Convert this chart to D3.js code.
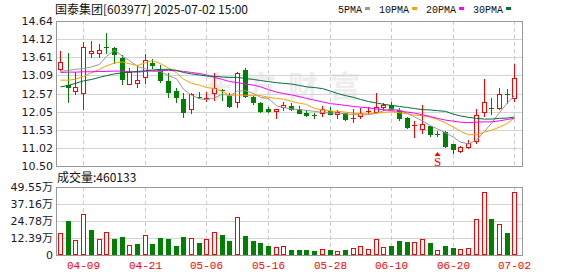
<!DOCTYPE html>
<html>
<head>
<meta charset="utf-8">
<script src="https://cdn.jsdelivr.net/npm/d3@7"></script>
<style>
body { margin: 0; background: #fff; }
svg { display: block; }
</style>
</head>
<body>
<script>
// trading days shown (60 sessions)
const dates = ["04-03","04-07","04-08","04-09","04-10","04-11","04-14","04-15","04-16","04-17",
  "04-18","04-21","04-22","04-23","04-24","04-25","04-28","04-29","04-30","05-06",
  "05-07","05-08","05-09","05-12","05-13","05-14","05-15","05-16","05-19","05-20",
  "05-21","05-22","05-23","05-26","05-27","05-28","05-29","05-30","06-03","06-04",
  "06-05","06-06","06-09","06-10","06-11","06-12","06-13","06-16","06-17","06-18",
  "06-19","06-20","06-23","06-24","06-25","06-26","06-27","06-30","07-01","07-02"];

const openP = [13.28,12.80,12.63,12.58,13.73,13.73,13.91,13.88,13.57,12.83,
  12.86,13.03,13.43,13.24,12.93,12.64,12.41,12.13,12.47,12.43,
  12.59,12.68,12.50,12.32,13.24,12.48,12.31,12.14,12.06,12.18,
  12.21,12.12,12.02,11.97,12.02,12.08,11.98,12.02,11.83,11.93,
  12.06,12.05,12.18,12.24,12.10,11.86,11.65,11.57,11.64,11.42,
  11.47,11.12,10.92,11.03,11.20,12.03,12.15,12.16,12.55,12.43];
const highP = [13.78,13.73,13.19,14.04,14.07,13.98,14.31,13.91,13.67,13.29,
  13.39,13.70,13.56,13.38,13.15,12.72,12.58,12.58,12.62,12.60,
  13.15,12.70,12.59,13.19,13.29,12.50,12.34,12.18,12.12,12.34,
  12.31,12.21,12.10,12.02,12.21,12.19,12.09,12.02,12.12,12.15,
  12.18,12.58,12.29,12.34,12.15,11.91,11.79,12.24,11.64,11.49,
  11.49,11.12,11.07,11.24,12.12,12.98,12.43,12.72,12.69,13.41];
const lowP = [13.24,12.34,12.56,12.12,13.62,13.60,13.73,13.43,12.83,12.83,
  12.76,12.86,13.29,12.91,12.48,12.34,11.91,12.02,12.43,12.36,
  12.38,12.38,12.18,12.19,12.48,12.27,12.05,12.04,11.86,12.10,
  12.10,12.00,11.93,11.88,11.93,11.99,11.87,11.81,11.77,11.86,
  11.99,12.05,12.10,12.12,11.81,11.58,11.34,11.43,11.36,11.36,
  11.03,10.88,10.90,11.01,11.17,11.93,11.98,12.12,12.31,12.36];
const closeP = [13.46,12.75,12.75,13.89,13.78,13.81,13.90,13.69,12.99,13.18,
  12.95,13.52,13.38,12.95,12.62,12.46,12.04,12.55,12.45,12.45,
  12.72,12.64,12.22,13.15,12.50,12.34,12.08,12.07,12.12,12.24,
  12.12,12.00,11.96,11.95,12.12,11.99,12.04,11.83,11.87,12.02,
  12.08,12.19,12.23,12.12,11.86,11.62,11.67,11.70,11.41,11.41,
  11.07,10.99,11.04,11.16,11.96,12.32,12.13,12.56,12.53,13.00];

const volume = [158000,247800,107000,296400,182000,116600,165000,116600,131200,70400,
  80200,143300,80200,123900,116600,68000,131200,121500,87400,116600,
  165000,145700,102000,274500,138500,102000,87400,68000,58300,63200,
  36400,36400,36400,29100,41300,36400,26700,36400,48600,65600,
  43700,114200,58300,68000,102000,94700,94700,114200,87400,34000,
  65600,51000,41300,48600,260000,456600,262300,223400,160300,460133];

const ma5 = [13.20,13.23,13.26,13.28,13.33,13.40,13.63,13.81,13.63,13.51,
  13.34,13.27,13.20,13.20,13.08,12.99,12.69,12.52,12.42,12.39,
  12.44,12.56,12.50,12.64,12.65,12.57,12.46,12.43,12.22,12.17,
  12.13,12.11,12.09,12.06,12.03,12.01,12.01,11.99,11.97,11.95,
  11.97,12.00,12.08,12.13,12.10,12.00,11.90,11.79,11.65,11.56,
  11.45,11.32,11.18,11.13,11.24,11.49,11.72,12.03,12.30,12.51];
const ma10 = [12.95,12.95,12.98,13.06,13.16,13.26,13.36,13.44,13.47,13.42,
  13.37,13.45,13.51,13.42,13.30,13.16,12.98,12.86,12.81,12.74,
  12.71,12.63,12.51,12.53,12.52,12.51,12.51,12.46,12.43,12.41,
  12.35,12.29,12.26,12.14,12.10,12.07,12.06,12.04,12.01,11.99,
  11.99,12.01,12.03,12.05,12.02,11.99,11.95,11.94,11.89,11.83,
  11.73,11.61,11.49,11.39,11.40,11.47,11.52,11.61,11.72,11.88];
const ma20 = [13.17,13.18,13.18,13.19,13.19,13.20,13.20,13.21,13.21,13.19,
  13.18,13.20,13.22,13.22,13.23,13.22,13.20,13.17,13.14,13.10,
  13.03,12.97,12.91,12.88,12.84,12.81,12.76,12.68,12.61,12.57,
  12.53,12.48,12.43,12.38,12.33,12.28,12.26,12.23,12.20,12.18,
  12.16,12.13,12.11,12.08,12.06,12.04,12.01,11.96,11.91,11.86,
  11.81,11.78,11.75,11.74,11.75,11.76,11.76,11.79,11.83,11.86];
const ma30 = [12.76,12.80,12.86,12.93,12.97,13.03,13.08,13.13,13.16,13.18,
  13.20,13.22,13.24,13.26,13.26,13.23,13.17,13.13,13.10,13.07,
  13.06,13.04,13.03,13.03,13.00,12.97,12.94,12.91,12.88,12.86,
  12.84,12.80,12.76,12.74,12.71,12.64,12.57,12.51,12.46,12.40,
  12.34,12.30,12.26,12.23,12.20,12.17,12.14,12.11,12.10,12.08,
  12.06,11.98,11.93,11.89,11.86,11.84,11.84,11.86,11.87,11.90];

const priceTicks = [14.64,14.12,13.61,13.09,12.57,12.05,11.53,11.02,10.50];
const volTicks = [0,123900,247800,371600,495500];
const volTickLabels = ["0","12.39万","24.78万","37.16万","49.55万"];
const dateTicks = ["04-09","04-21","05-06","05-16","05-28","06-10","06-20","07-02"];
const maNames = ["5PMA","10PMA","20PMA","30PMA"];
const signalDate = "06-18";

const RED = "#ff0000", GREEN = "#008000";
const maColors = ["#999999","#f5a300","#ff00ff","#006f35"];

const width = 578, height = 276;
const padL = 56, padR = 522, kTop = 21, kBottom = 166, vTop = 187, vBottom = 255;

const svg = d3.select("body").append("svg").attr("width", width).attr("height", height);

const x = d3.scaleBand().domain(d3.range(dates.length)).range([56.2, 518.2]);
const cx = (i) => Math.round(x(i) + x.bandwidth() / 2);
const y = d3.scaleLinear().domain([10.50, 14.64]).range([kBottom, kTop]);
const yv = d3.scaleLinear().domain([0, 495500]).range([vBottom, vTop]);

//watermark
svg.append("text")
  .attr("x", 288).attr("y", 97)
  .attr("text-anchor", "middle")
  .attr("font-family", "'Noto Sans CJK SC'")
  .attr("font-weight", "bold")
  .attr("font-size", 30)
  .attr("letter-spacing", 12)
  .attr("fill", "#ededed")
  .text("东方财富");

//grid
const grid = svg.append("g").attr("shape-rendering", "crispEdges");
priceTicks.slice(1, -1).forEach((v) => {
  grid.append("line").attr("x1", padL).attr("x2", padR)
    .attr("y1", Math.round(y(v)) + 0.5).attr("y2", Math.round(y(v)) + 0.5)
    .attr("stroke", "#d4d4d4");
});
volTicks.slice(1, -1).forEach((v) => {
  grid.append("line").attr("x1", padL).attr("x2", padR)
    .attr("y1", Math.round(yv(v)) + 0.5).attr("y2", Math.round(yv(v)) + 0.5)
    .attr("stroke", "#d4d4d4");
});
dateTicks.forEach((d) => {
  const xi = cx(dates.indexOf(d)) + 0.5;
  [[kTop, kBottom], [vTop, vBottom]].forEach((r) => {
    grid.append("line").attr("x1", xi).attr("x2", xi).attr("y1", r[0]).attr("y2", r[1])
      .attr("stroke", "#cccccc").attr("stroke-dasharray", "4,3");
  });
});

//frames
[[kTop, kBottom], [vTop, vBottom]].forEach((r) => {
  svg.append("rect").attr("x", padL + 0.5).attr("y", r[0] + 0.5)
    .attr("width", padR - padL).attr("height", r[1] - r[0])
    .attr("fill", "none").attr("stroke", "#999").attr("shape-rendering", "crispEdges");
});

//candles
const candles = svg.append("g").attr("shape-rendering", "crispEdges");
dates.forEach((d, i) => {
  const up = closeP[i] >= openP[i];
  const col = up ? RED : GREEN;
  const xc = cx(i);
  candles.append("line").attr("x1", xc + 0.5).attr("x2", xc + 0.5)
    .attr("y1", Math.round(y(highP[i]))).attr("y2", Math.round(y(lowP[i])) + 1)
    .attr("stroke", col);
  const yTop = Math.round(y(Math.max(openP[i], closeP[i])));
  const yBot = Math.round(y(Math.min(openP[i], closeP[i])));
  if (yBot - yTop < 2) {
    candles.append("line").attr("x1", xc - 2).attr("x2", xc + 3)
      .attr("y1", yTop + 0.5).attr("y2", yTop + 0.5).attr("stroke", col);
  } else if (up) {
    candles.append("rect").attr("x", xc - 1.5).attr("y", yTop + 0.5)
      .attr("width", 4).attr("height", yBot - yTop)
      .attr("fill", "#fff").attr("stroke", col);
  } else {
    candles.append("rect").attr("x", xc - 2).attr("y", yTop)
      .attr("width", 5).attr("height", yBot - yTop + 1)
      .attr("fill", col);
  }
});

//moving averages
const maLine = d3.line().x((v, i) => cx(i) + 0.5).y((v) => y(v));
[ma5, ma10, ma20, ma30].forEach((s, k) => {
  svg.append("path").attr("d", maLine(s)).attr("fill", "none")
    .attr("stroke", maColors[k]).attr("stroke-width", 1);
});

//signal mark
const si = cx(dates.indexOf(signalDate)) + 0.5;
svg.append("path").attr("d", `M${si - 3},156 L${si + 3},156 L${si},152 Z`).attr("fill", RED);
svg.append("text").attr("x", si).attr("y", 165.5).attr("text-anchor", "middle")
  .attr("font-family", "'Liberation Serif'").attr("font-size", 13).attr("fill", RED).text("S");

//volume bars
const bars = svg.append("g").attr("shape-rendering", "crispEdges");
volume.forEach((v, i) => {
  const up = i === 0 ? closeP[i] >= openP[i] : closeP[i] >= closeP[i - 1];
  const xc = cx(i);
  const yt = Math.round(yv(v));
  if (up) {
    bars.append("rect").attr("x", xc - 1.5).attr("y", yt + 0.5)
      .attr("width", 4).attr("height", vBottom - yt - 1)
      .attr("fill", "#fff").attr("stroke", RED);
  } else {
    bars.append("rect").attr("x", xc - 2).attr("y", yt)
      .attr("width", 5).attr("height", vBottom - yt)
      .attr("fill", GREEN);
  }
});

//axes
const yAxis = svg.append("g").attr("transform", `translate(${padL},0)`)
  .call(d3.axisLeft(y).tickValues(priceTicks).tickFormat(d3.format(".2f")).tickSize(0).tickPadding(3));
const vAxis = svg.append("g").attr("transform", `translate(${padL},0)`)
  .call(d3.axisLeft(yv).tickValues(volTicks).tickFormat((d, i) => volTickLabels[i]).tickSize(0).tickPadding(3));
[yAxis, vAxis].forEach((g) => {
  g.select(".domain").remove();
  g.selectAll("text").attr("font-family", "'DejaVu Sans','Noto Sans CJK SC'")
    .attr("font-size", 11).attr("fill", "#1a1a2e");
});

const xAxis = svg.append("g").attr("transform", `translate(0,${vBottom})`)
  .call(d3.axisBottom(x).tickValues(dateTicks.map((d) => dates.indexOf(d)))
    .tickFormat((i) => dates[i]).tickSize(0).tickPadding(6));
xAxis.select(".domain").remove();
xAxis.selectAll(".tick").attr("transform", (i) => `translate(${cx(i) + 0.5},0)`);
xAxis.selectAll("text").attr("font-family", "'Liberation Mono'").attr("font-size", 11).attr("fill", RED);

//title
svg.append("text").attr("x", 55).attr("y", 14)
  .attr("font-family", "'Noto Sans CJK SC'").attr("font-size", 12).attr("fill", "#111")
  .text("国泰集团[603977] 2025-07-02 15:00");

svg.append("text").attr("x", 57).attr("y", 182)
  .attr("font-family", "'Noto Sans CJK SC'").attr("font-size", 12).attr("fill", "#111")
  .text("成交量:" + volume[volume.length - 1]);

//legend
let lx = 338;
maNames.forEach((name, k) => {
  const t = svg.append("text").attr("x", lx).attr("y", 13)
    .attr("font-family", "'Liberation Mono'").attr("font-size", 10).attr("fill", "#111")
    .text(name);
  const w = t.node().getComputedTextLength();
  svg.append("rect").attr("x", lx + w + 3).attr("y", 7).attr("width", 5).attr("height", 3)
    .attr("fill", maColors[k]);
  lx = lx + w + 3 + 5 + 9;
});
</script>
</body>
</html>
